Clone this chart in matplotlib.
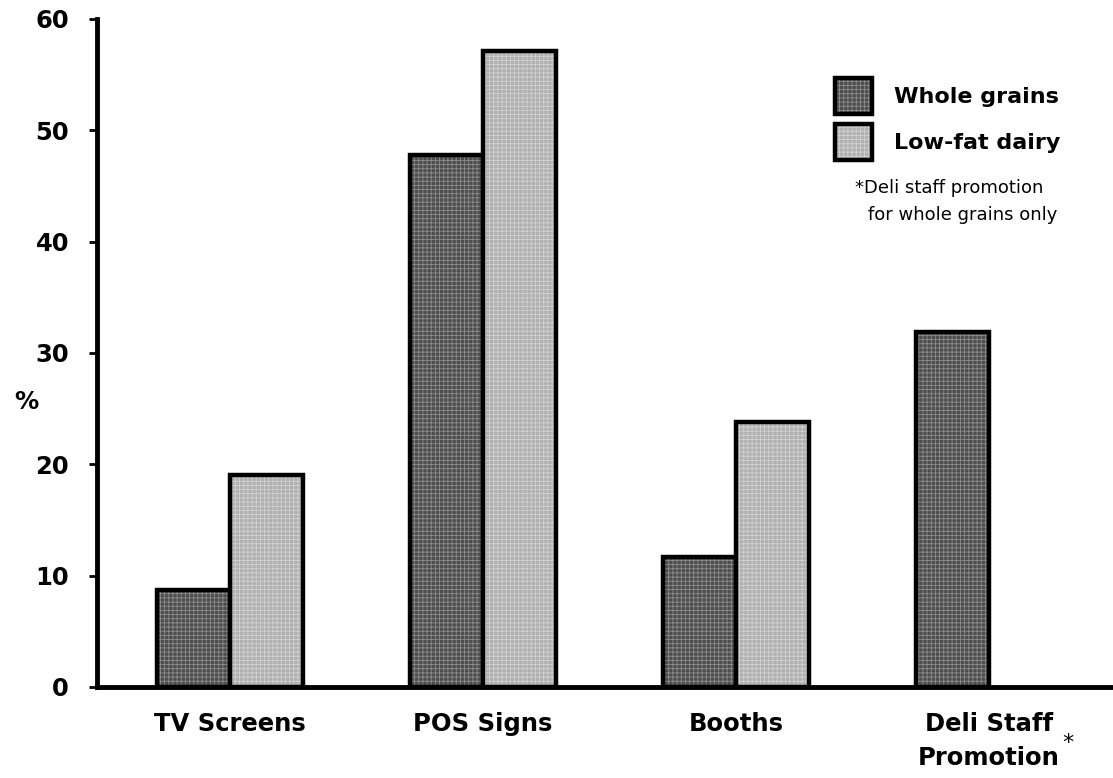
import matplotlib.pyplot as plt
import numpy as np

categories = ["TV Screens", "POS Signs", "Booths", "Deli Staff\nPromotion"]
whole_grains = [8.7, 47.8, 11.7, 31.9]
low_fat_dairy = [19.0, 57.1, 23.8, np.nan]
yticks = [0, 10, 20, 30, 40, 50, 60]

plt.rcParams['font.family'] = ['DejaVu Sans']
plt.rcParams['hatch.linewidth'] = 0.6

fig = plt.figure(figsize=(11.13, 7.78), dpi=100)
ax = fig.add_axes([0.087, 0.117, 0.913, 0.8586])

x = np.arange(len(categories))
w = 0.289

b1 = ax.bar(x - w/2, whole_grains, w, color="#4d4d4d", edgecolor="black",
            linewidth=3.2, hatch="++++", label="Whole grains")
b2 = ax.bar(x + w/2, low_fat_dairy, w, color="#b0b0b0", edgecolor="black",
            linewidth=3.2, hatch="++++", label="Low-fat dairy")
for p in b1:
    p._hatch_color = (0.55, 0.55, 0.55, 1)
for p in b2:
    p._hatch_color = (0.82, 0.82, 0.82, 1)

ax.set_xlim(-0.526, 3.49)
ax.set_ylim(0, 60)
ax.set_yticks(yticks)
ax.set_yticklabels([str(t) for t in yticks], fontsize=17.5, fontweight="bold")
ax.set_xticks(x)
ax.set_xticklabels(categories, fontsize=17.5, fontweight="bold", linespacing=1.55)
ax.tick_params(axis="x", length=0, pad=18)
ax.tick_params(axis="y", length=6, width=2, direction="out", pad=14)

for s in ["top", "right"]:
    ax.spines[s].set_visible(False)
ax.spines["left"].set_linewidth(3.5)
ax.spines["bottom"].set_linewidth(3.5)

ax.set_ylabel("%", fontsize=17.5, fontweight="bold", rotation=0, va="center", ha="center")
ax.yaxis.set_label_coords(-0.069, 0.427)

# superscript asterisk on the last category label
ax.text(3.31, -5.0, "*", fontsize=16, ha="center", va="center")

leg = ax.legend(loc="upper left", bbox_to_anchor=(0.7264, 0.9117), frameon=False,
                prop={"size": 16, "weight": "bold"}, handlelength=1.65,
                handleheight=2.1, labelspacing=0.45, handletextpad=1.0,
                borderpad=0, borderaxespad=0)

ax.text(2.470, 44.8, "*Deli staff promotion", fontsize=13, ha="left", va="center")
ax.text(2.521, 42.4, "for whole grains only", fontsize=13, ha="left", va="center")

fig.savefig("out.png", dpi=100)
